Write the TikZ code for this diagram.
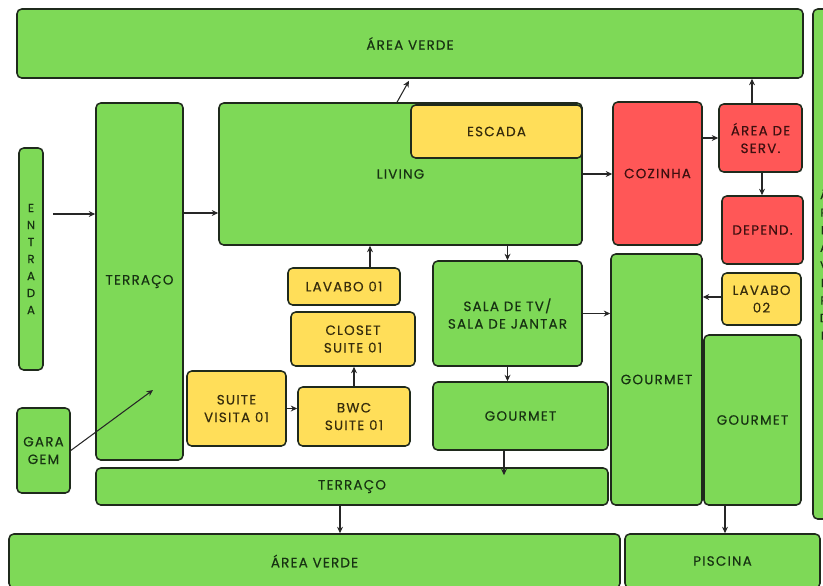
\documentclass[tikz,border=0pt]{standalone}
\usepackage{fontspec}
\setmainfont{Poppins}[LetterSpace=9, FakeBold=0.35]
\usepackage{tikz}
\usetikzlibrary{positioning,arrows.meta,calc}
\definecolor{lawn}{HTML}{7ED957}
\definecolor{brick}{HTML}{FF5757}
\definecolor{sand}{HTML}{FFDE59}
\definecolor{edge}{HTML}{1F2A1C}
\definecolor{inkg}{HTML}{173212}
\definecolor{inkr}{HTML}{3E1010}
\definecolor{inky}{HTML}{362C0C}
\tikzset{
  room/.style={draw=edge, line width=1.3pt, rounded corners=4pt, align=center, inner sep=2pt, font=\fontsize{11.5}{15}\selectfont},
  gbox/.style={room, fill=lawn, text=inkg},
  rbox/.style={room, fill=brick, text=inkr},
  ybox/.style={room, fill=sand, text=inky},
  wh/.style 2 args={minimum width=#1*0.3mm, minimum height=#2*0.3mm},
  vtext/.style={font=\fontsize{10}{14.5}\selectfont},
  flow/.style={-{Stealth[length=5.5pt, width=5pt]}, draw=black!85, line width=0.9pt},
}
\begin{document}
\begin{tikzpicture}[x=0.3mm, y=-0.3mm]
    \useasboundingbox (0,0) rectangle (823,585);
    \clip (0,0) rectangle (823,585);
    % outside areas
    \node[gbox, wh={786}{69}] (topgreen) at (410,43.5) {ÁREA VERDE};
    \node[gbox, wh={22}{510}, vtext, font=\fontsize{10}{15}\selectfont] (sidegreen) at (824,264) {Á\\R\\E\\A\\V\\E\\R\\D\\E};
    \node[gbox, wh={611}{54}] (lowgreen) at (314.5,561) {ÁREA VERDE};
    \node[gbox, wh={195}{54}] (piscina) at (722.5,561) {PISCINA};
    % access
    \node[gbox, wh={24}{222}, vtext] (entrada) at (31,259) {E\\N\\T\\R\\A\\D\\A};
    \node[gbox, wh={53}{85}] (garagem) at (43.5,450.5) {GARA\\GEM};
    \node[gbox, wh={87}{357}] (terraco) at (139.5,281.5) {TERRAÇO};
    \node[gbox, wh={512}{37}] (terracolow) at (352,486.5) {TERRAÇO};
    % social
    \node[gbox, wh={363}{142}] (living) at (400.5,174) {LIVING};
    \node[ybox, wh={171}{53}] (escada) at (496.5,131.5) {ESCADA};
    \node[gbox, wh={149}{105}] (salatv) at (507.5,313.5) {SALA DE TV/\\SALA DE JANTAR};
    \node[gbox, wh={175}{68}] (gourmeta) at (520.5,416) {GOURMET};
    \node[gbox, wh={91}{251}] (gourmetb) at (656.5,379.5) {GOURMET};
    \node[gbox, wh={97}{170}] (gourmetc) at (752.5,420) {GOURMET};
    % intimate
    \node[ybox, wh={112}{37}] (lavaboa) at (344,286.5) {LAVABO 01};
    \node[ybox, wh={124}{54}] (closet) at (353,339) {CLOSET\\SUITE 01};
    \node[ybox, wh={99}{75}] (suitevis) at (236.5,408.5) {SUITE\\VISITA 01};
    \node[ybox, wh={112}{59}] (bwc) at (354,416.5) {BWC\\SUITE 01};
    \node[ybox, wh={79}{52}] (lavabob) at (761.5,299) {LAVABO\\02};
    % service
    \node[rbox, wh={89}{143}] (cozinha) at (657.5,173.5) {COZINHA};
    \node[rbox, wh={83}{68}] (areaserv) at (760.5,138) {ÁREA DE\\SERV.};
    \node[rbox, wh={81}{68}] (depend) at (762.5,230) {DEPEND.};
    % connector feet
    \coordinate (sv) at ($(areaserv.north)+(-8.5,0)$);
    \coordinate (lv) at ($(lavaboa.north)+(26,0)$);
    \coordinate (ga) at ($(gourmeta.south)+(-16.5,0)$);
    \coordinate (tl) at ($(terracolow.south)+(-12,0)$);
    \coordinate (gc) at ($(gourmetc.south)+(-27.5,0)$);
    % flows
    \draw[flow] ($(entrada.east)+(9,-45)$) -- ($(terraco.west)+(0,-67.5)$);
    \draw[flow] ($(terraco.east)+(0,-68.5)$) -- ($(living.west)+(0,39)$);
    \draw[flow] (garagem.east) -- ($(terraco.center)+(13.5,108.5)$);
    \draw[flow] ($(living.north)+(-3.5,0)$) -- ($(topgreen.south)+(-1,2)$);
    \draw[flow] (living.east) -- (cozinha.west |- living.east);
    \draw[flow] (cozinha.east |- areaserv.west) -- (areaserv.west);
    \draw[flow] (sv) -- (sv |- topgreen.south);
    \draw[flow] ($(areaserv.south)+(1.5,0)$) -- ($(depend.north)+(-0.5,0)$);
    \draw[flow] ($(lavabob.west)+(0,-2)$) -- ($(gourmetb.east |- lavabob.west)+(0,-2)$);
    \draw[flow] (salatv.north |- living.south) -- (salatv.north);
    \draw[flow] (lv) -- (lv |- living.south);
    \draw[flow] (bwc.north) -- (bwc.north |- closet.south);
    \draw[flow] (suitevis.east) -- (bwc.west |- suitevis.east);
    \draw[flow] (salatv.east) -- (gourmetb.west |- salatv.east);
    \draw[flow] (salatv.south) -- (salatv.south |- gourmeta.north);
    \draw[flow] (ga) -- ($(ga |- terracolow.north)+(0,8)$);
    \draw[flow] (tl) -- (tl |- lowgreen.north);
    \draw[flow] (gc) -- (gc |- piscina.north);
\end{tikzpicture}
\end{document}
